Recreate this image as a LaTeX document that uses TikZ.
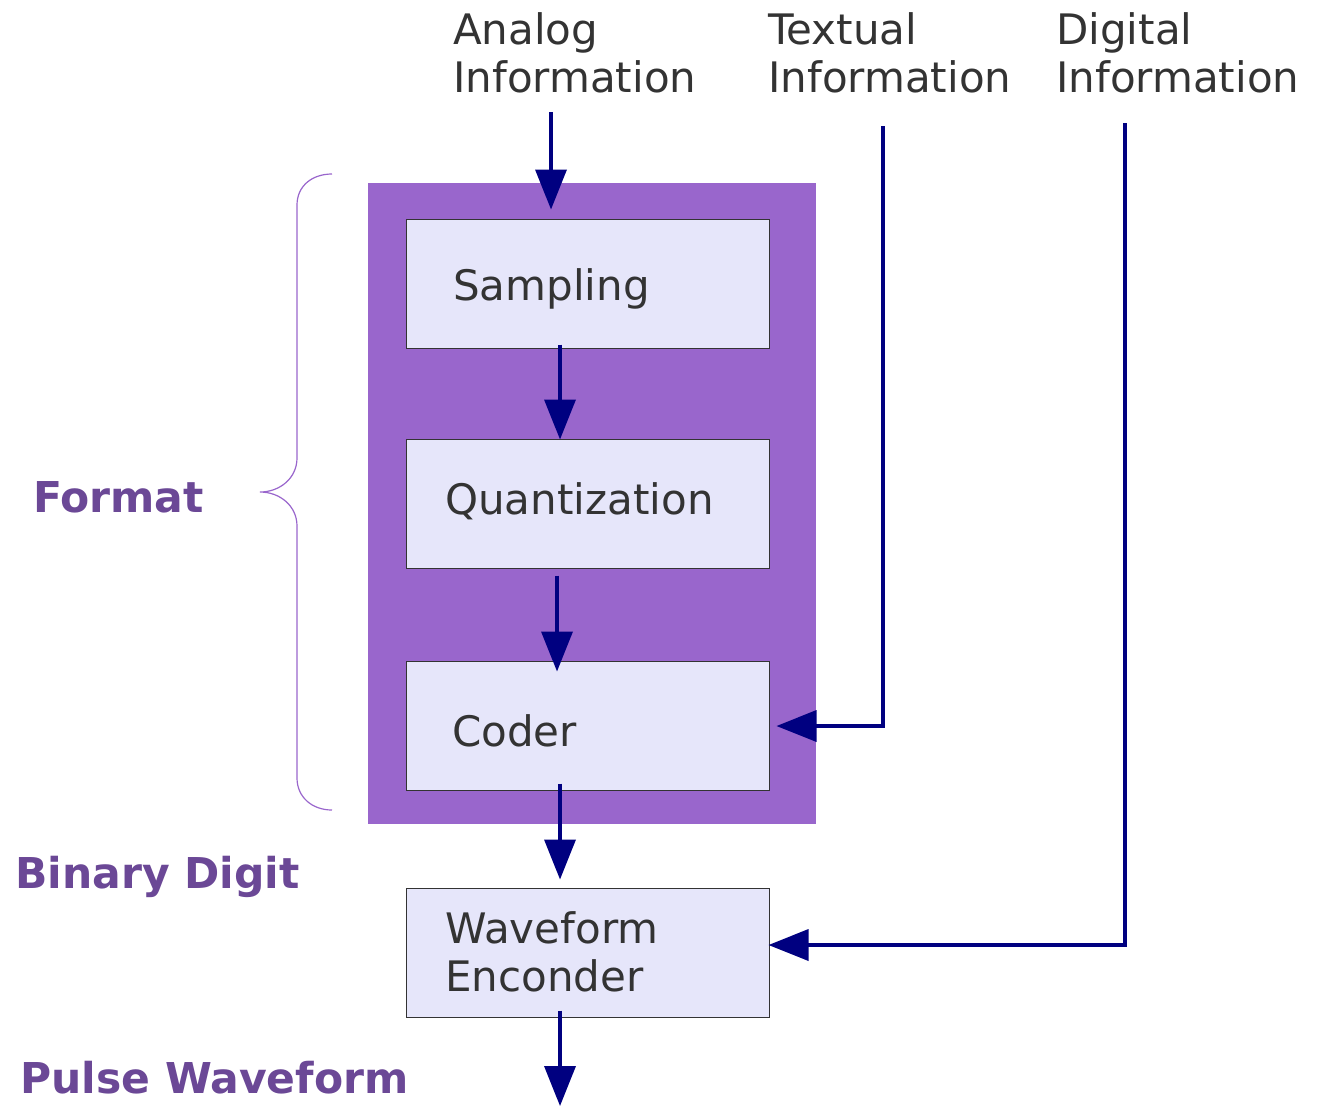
\documentclass[tikz,border=0pt]{standalone}
\usepackage{fontspec}
\setmainfont{DejaVu Sans}
\usetikzlibrary{arrows.meta}
\definecolor{bgpurple}{HTML}{9966CC}
\definecolor{boxfill}{HTML}{E6E6FA}
\definecolor{txtgray}{HTML}{333333}
\definecolor{lblpurple}{HTML}{6B4896}
\definecolor{arrnavy}{HTML}{000080}
\begin{document}
\begin{tikzpicture}[x=1pt,y=-1pt,
  blk/.style={draw=black!80,line width=1pt,fill=boxfill,minimum width=363pt,minimum height=129pt,inner sep=0pt},
  txt/.style={text=txtgray,font=\fontsize{42}{48}\selectfont,inner sep=0pt,anchor=base west,align=left},
  lbl/.style={text=lblpurple,font=\fontsize{42.5}{48}\selectfont\bfseries,inner sep=0pt,anchor=base west},
  arr/.style={draw=arrnavy,line width=3.6pt,-{Triangle[length=40pt,width=31pt]}},
  brace/.style={draw=bgpurple,line width=1.2pt}
]
\useasboundingbox (0,0) rectangle (1321,1106);
% background
\node[fill=bgpurple,minimum width=448pt,minimum height=641pt,inner sep=0pt] (fmtbg) at (592,503.5) {};
% boxes
\node[blk] (samp) at (587.5,283.5) {};
\node[blk] (quant) at (587.5,503.5) {};
\node[blk] (coder) at (587.5,725.5) {};
\node[blk] (wave) at (587.5,952.5) {};
% box texts
\node[txt] (tsamp) at (453,300) {Sampling};
\node[txt] (tquant) at (445,514) {Quantization};
\node[txt] (tcoder) at (452,746) {Coder};
\node[txt] (twave) at (445,991) {Waveform\\Enconder};
% top labels
\node[txt] (analog) at (453,92) {Analog\\Information};
\node[txt] (textual) at (768,92) {Textual\\Information};
\node[txt] (digital) at (1056,92) {Digital\\Information};
% side labels
\node[lbl] (format) at (33,512) {Format};
\node[lbl] (binary) at (15,888) {Binary Digit};
\node[lbl] (pulse) at (20,1093) {Pulse Waveform};
% coordinates
\coordinate (astart) at (551,112);
\coordinate (tstart) at (883,126);
\coordinate (dstart) at (1125,123);
\coordinate (pend) at (560,1106);
% arrows
\draw[arr] (astart) -- ([xshift=-36.5pt,yshift=9pt]samp.north);
\draw[arr] ([xshift=-27.5pt,yshift=4pt]samp.south) -- ([xshift=-27.5pt,yshift=-1pt]quant.north);
\draw[arr] ([xshift=-30.5pt,yshift=-7pt]quant.south) -- ([xshift=-30.5pt,yshift=-11pt]coder.north);
\draw[arr] ([xshift=-27.5pt,yshift=7pt]coder.south) -- ([xshift=-27.5pt,yshift=8pt]wave.north);
\draw[arr] ([xshift=-27.5pt,yshift=7pt]wave.south) -- (pend);
\draw[arr] (tstart) |- ([xshift=7pt,yshift=-0.5pt]coder.east);
\draw[arr] (dstart) |- ([xshift=-1pt,yshift=7.5pt]wave.east);
% brace
\draw[brace] (332,174) .. controls (312,174) and (297,186) .. (297,205)
  -- (297,458) .. controls (297,478) and (280,492) .. (260,492)
  .. controls (280,492) and (297,506) .. (297,526)
  -- (297,778) .. controls (297,797) and (312,810) .. (332,810);
\end{tikzpicture}
\end{document}
